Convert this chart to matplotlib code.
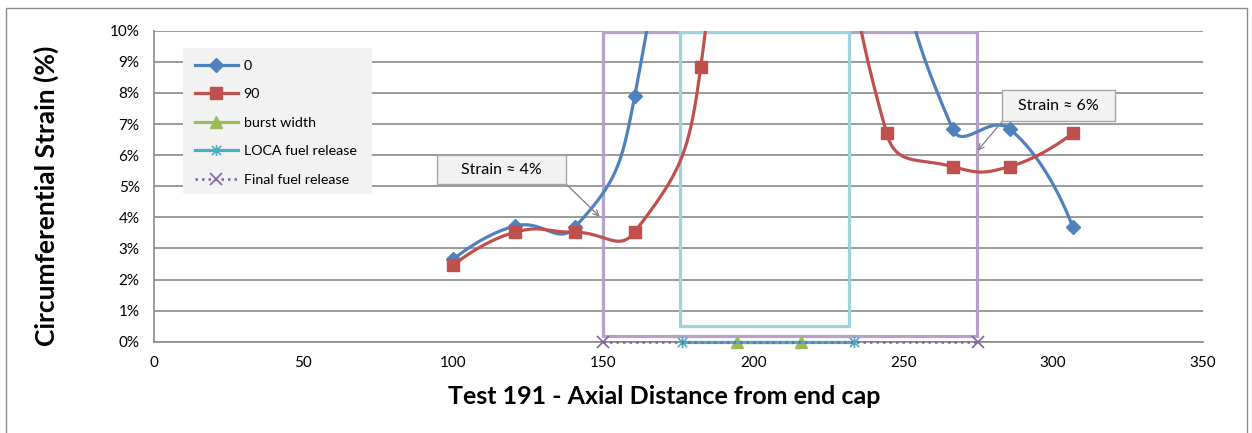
import numpy as np
import matplotlib
matplotlib.use("Agg")
import matplotlib.pyplot as plt
from matplotlib.patches import Rectangle
from matplotlib.lines import Line2D
from matplotlib.path import Path

# ---------------- data ----------------
pos0_x = [100, 120.5, 140.5, 160.5, 182.5, 204.5, 224.5, 244.5, 266.5, 285.5, 306.5]
pos0_y = [2.65, 3.72, 3.68, 7.91, 25, 45, 40, 16, 6.84, 6.84, 3.70]
pos90_x = [100, 120.5, 140.5, 160.5, 182.5, 204.5, 224.5, 244.5, 266.5, 285.5, 306.5]
pos90_y = [2.46, 3.52, 3.52, 3.53, 8.83, 35, 20, 6.70, 5.63, 5.63, 6.70]
burst_x = [194.5, 216.0]
burst_y = [0, 0]
loca_x = [176.4, 233.5]
loca_y = [0, 0]
final_x = [150.0, 275.0]
final_y = [0, 0]
loca_box_x = [175.7, 231.9]
loca_box_y = [0.5, 9.95]
final_box_x = [149.9, 274.7]
final_box_y = [0.18, 9.95]
annot_text = ["Strain \u2248 4%", "Strain \u2248 6%"]
annot_x = [148.8, 274.8]
annot_y = [4.02, 6.14]
x_ticks = [0, 50, 100, 150, 200, 250, 300, 350]
y_ticks = [0, 1, 2, 3, 4, 5, 6, 7, 8, 9, 10]
series_labels = ["0", "90", "burst width", "LOCA fuel release", "Final fuel release"]

plt.rcParams['font.family'] = ['Lato', 'DejaVu Sans']
LABEL_FONT = ['Lato', 'DejaVu Sans']

W, H = 1252, 433
fig = plt.figure(figsize=(W / 100, H / 100), dpi=100)
fig.patch.set_facecolor('white')

x0, x1, ytop, ybot = 153.5, 1203, 30.7, 341.7
ax = fig.add_axes([x0 / W, (H - ybot) / H, (x1 - x0) / W, (ybot - ytop) / H])
ax.set_xlim(0, 350)
ax.set_ylim(0, 10)
ax.set_xticks(x_ticks)
ax.set_yticks(y_ticks)
ax.set_yticklabels([f"{v}%" for v in y_ticks])
ax.tick_params(length=0, pad=10, labelsize=11, colors='black')
ax.yaxis.grid(True, color='#8a8a8a', lw=1.2)
ax.set_axisbelow(True)
for s in ['top', 'right']:
    ax.spines[s].set_visible(False)
for s in ['left', 'bottom']:
    ax.spines[s].set_color('#8a8a8a')
    ax.spines[s].set_linewidth(1.2)

def smooth(xs, ys, t=0.5, n=60):
    P = ax.transData.transform(np.column_stack([xs, ys]))
    N = len(P)
    c_in = P.copy()
    c_out = P.copy()
    for i in range(1, N - 1):
        d01 = np.hypot(*(P[i] - P[i - 1]))
        d12 = np.hypot(*(P[i + 1] - P[i]))
        v = P[i + 1] - P[i - 1]
        fa = t * d01 / (d01 + d12)
        fb = t * d12 / (d01 + d12)
        c_in[i] = P[i] - fa * v
        c_out[i] = P[i] + fb * v
    s = np.linspace(0, 1, n)[:, None]
    pts = []
    for i in range(N - 1):
        p0, p1, p2, p3 = P[i], c_out[i], c_in[i + 1], P[i + 1]
        seg = (1 - s) ** 3 * p0 + 3 * (1 - s) ** 2 * s * p1 + 3 * (1 - s) * s ** 2 * p2 + s ** 3 * p3
        pts.append(seg if i == 0 else seg[1:])
    pts = np.vstack(pts)
    return ax.transData.inverted().transform(pts)

C_BLUE = '#4f81bd'
C_RED = '#c0504d'
C_GREEN = '#9bbb59'
C_CYAN = '#4bacc6'
C_PURPLE = '#8064a2'

# highlight boxes
ax.add_patch(Rectangle((final_box_x[0], final_box_y[0]), final_box_x[1] - final_box_x[0],
                       final_box_y[1] - final_box_y[0], fill=False, ec='#b4a2cb', lw=2.3, zorder=2.5))
ax.add_patch(Rectangle((loca_box_x[0], loca_box_y[0]), loca_box_x[1] - loca_box_x[0],
                       loca_box_y[1] - loca_box_y[0], fill=False, ec='#9dd2df', lw=2.3, zorder=2.5))

# series 0
c = smooth(pos0_x, pos0_y)
ax.plot(c[:, 0], c[:, 1], color=C_BLUE, lw=2.3, zorder=3, solid_capstyle='round')
ax.plot(pos0_x, pos0_y, ls='none', marker='D', ms=7, color=C_BLUE, zorder=3.1)
# series 90
c = smooth(pos90_x, pos90_y)
ax.plot(c[:, 0], c[:, 1], color=C_RED, lw=2.3, zorder=3.2, solid_capstyle='round')
ax.plot(pos90_x, pos90_y, ls='none', marker='s', ms=8, color=C_RED, zorder=3.3)

star = Path([(-1, -1), (1, 1), (-1, 1), (1, -1), (0, -1.2), (0, 1.2)],
            [Path.MOVETO, Path.LINETO, Path.MOVETO, Path.LINETO, Path.MOVETO, Path.LINETO])

ax.plot(burst_x, burst_y, color=C_GREEN, lw=2.3, marker='^', ms=9, zorder=3.4, clip_on=False)
ax.plot(loca_x, loca_y, color=C_CYAN, lw=2.3, marker=star, ms=8, mew=1.2, zorder=3.5, clip_on=False)
ax.plot(final_x, final_y, color=C_PURPLE, lw=1.8, ls=(0, (1, 1.6)), marker='x', ms=8, mew=1.2,
        zorder=3.6, clip_on=False)

# legend
fig.add_artist(Rectangle((183 / W, 1 - 194 / H), (372 - 183) / W, (194 - 48) / H,
                         transform=fig.transFigure, fc='#f2f2f2', ec='none', zorder=4))
handles = [
    Line2D([], [], color=C_BLUE, lw=2.3, marker='D', ms=7),
    Line2D([], [], color=C_RED, lw=2.3, marker='s', ms=8),
    Line2D([], [], color=C_GREEN, lw=2.3, marker='^', ms=9),
    Line2D([], [], color=C_CYAN, lw=2.3, marker=star, ms=8, mew=1.2),
    Line2D([], [], color=C_PURPLE, lw=1.8, ls=(0, (1, 1.6)), marker='x', ms=8, mew=1.2),
]
leg = fig.legend(handles, series_labels, loc='upper left', bbox_to_anchor=(195 / W, 1 - 60 / H),
                 frameon=False, fontsize=10.3, handlelength=3.0, handletextpad=0.4,
                 labelspacing=1.15, borderpad=0, borderaxespad=0)
leg.set_zorder(5)

# annotation callouts
boxes = [(437, 155, 566, 184), (1002, 90, 1115, 121)]
starts = [(566, 184), (1002, 121.7)]
for (bx0, by0, bx1, by1), txt, tx, ty, (sx, sy) in zip(boxes, annot_text, annot_x, annot_y, starts):
    fig.add_artist(Rectangle((bx0 / W, 1 - by1 / H), (bx1 - bx0) / W, (by1 - by0) / H,
                             transform=fig.transFigure, fc='#f2f2f2', ec='#a6a6a6', lw=1.0, zorder=6))
    fig.text((bx0 + bx1) / 2 / W, 1 - (by0 + by1) / 2 / H, txt, ha='center', va='center',
             fontsize=11.5, zorder=7)
    ax.annotate('', xy=(tx, ty), xycoords='data', xytext=(sx, H - sy), textcoords='figure pixels',
                arrowprops=dict(arrowstyle='->', color='#808080', lw=0.9, shrinkA=0, shrinkB=0,
                                mutation_scale=10), zorder=6)

# axis titles
fig.text(664.5 / W, 1 - 396 / H, 'Test 191 - Axial Distance from end cap', ha='center', va='center',
         fontsize=18, fontweight='bold', family=LABEL_FONT)
fig.text(46 / W, 1 - 196 / H, 'Circumferential Strain (%)', ha='center', va='center', rotation=90,
         fontsize=19, fontweight='bold', family=LABEL_FONT)

# outer border
fig.add_artist(Rectangle((6 / W, -0.05), (1247 - 6) / W, (H - 8) / H + 0.05, transform=fig.transFigure,
                         fill=False, ec='#8c8c8c', lw=1.0))

fig.savefig('out.png', dpi=100)
